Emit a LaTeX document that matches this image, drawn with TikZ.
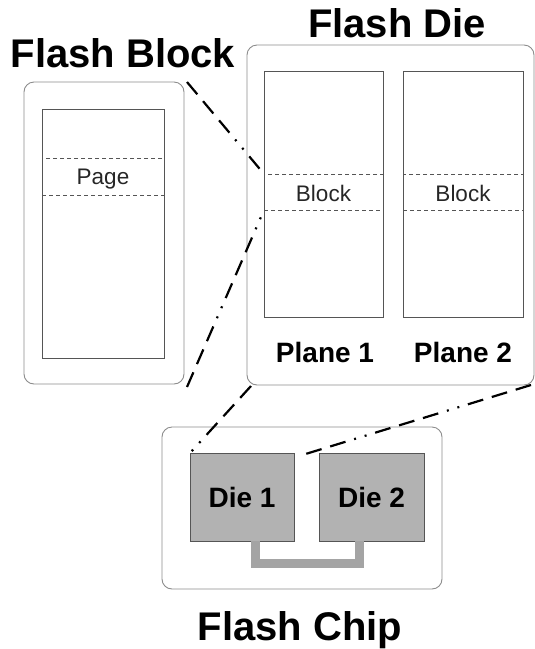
\documentclass[tikz,border=0pt]{standalone}
\usepackage{fontspec}
\setmainfont{Liberation Sans}
\usetikzlibrary{positioning}
\definecolor{frame}{HTML}{8C8C8C}
\definecolor{edge}{HTML}{555555}
\definecolor{diefill}{HTML}{B2B2B2}
\definecolor{busgray}{HTML}{A4A4A4}
\tikzset{
  outerbox/.style={draw=frame, line width=0.9pt, rounded corners=10pt, inner sep=0pt, outer sep=0pt, anchor=north west},
  innerbox/.style={draw=edge, line width=0.9pt, inner sep=0pt, outer sep=0pt, anchor=north west},
  band/.style={draw=edge, dashed, dash pattern=on 4pt off 3pt, line width=0.7pt, inner sep=0pt, outer sep=0pt, anchor=north west},
  diebox/.style={draw=edge, fill=diefill, line width=0.9pt, inner sep=0pt, outer sep=0pt, anchor=north west},
  zoomline/.style={line width=2.2pt, dash pattern=on 16pt off 9pt on 16pt off 9pt on 16pt off 9pt on 2pt off 9pt on 2pt off 9pt},
  title/.style={font=\bfseries\fontsize{40}{44}\selectfont, anchor=base},
  sublabel/.style={font=\bfseries\fontsize{28}{32}\selectfont, anchor=base},
  bandlabel/.style={font=\fontsize{22.5}{26}\selectfont, text=black!85, anchor=base},
}
\begin{document}
\begin{tikzpicture}[x=1pt, y=-1pt]
\useasboundingbox (0,0) rectangle (535,649);

% Flash block
\node[outerbox, minimum width=160pt, minimum height=302pt] (blk) at (24,82) {};
\node[innerbox, minimum width=122pt, minimum height=249pt] (blkin) at (42,109) {};
\node[band, minimum width=122pt, minimum height=37pt] (page) at (42,158) {};
\node[bandlabel] (pagelbl) at (103,184) {Page};
\node[title] (blktitle) at (123,67) {Flash Block};

% Flash die with two planes
\node[outerbox, minimum width=287pt, minimum height=340pt] (die) at (247,45) {};
\node[innerbox, minimum width=119pt, minimum height=246pt] (pl1) at (264,71) {};
\node[innerbox, minimum width=120pt, minimum height=246pt] (pl2) at (403,71) {};
\node[band, minimum width=119pt, minimum height=36pt] (b1) at (264,174) {};
\node[band, minimum width=120pt, minimum height=36pt] (b2) at (403,174) {};
\node[bandlabel] (b1lbl) at (323.5,201) {Block};
\node[bandlabel] (b2lbl) at (463,201) {Block};
\node[sublabel] (pl1lbl) at (325,362) {Plane 1};
\node[sublabel] (pl2lbl) at (463,362) {Plane 2};
\node[title] (dietitle) at (397,37) {Flash Die};

% Flash chip with two dies
\node[outerbox, minimum width=280pt, minimum height=162pt] (chip) at (162,427) {};
\node[diebox, minimum width=104pt, minimum height=88pt] (d1) at (190,453) {};
\node[diebox, minimum width=105pt, minimum height=88pt] (d2) at (319,453) {};
\node[sublabel] (d1lbl) at (242,507) {Die 1};
\node[sublabel] (d2lbl) at (371.5,507) {Die 2};
\node[title] (chiptitle) at (300,640) {Flash Chip};

% bus between the dies
\draw[busgray, line width=9pt] ([xshift=13pt]d1.south) |- (309,563) -| ([xshift=-12.5pt]d2.south);

% zoom lines
\draw[zoomline] ([xshift=3pt]blk.north east) -- (b1.north west);
\draw[zoomline] ([xshift=3pt,yshift=-3pt]blk.south east) -- (b1.south west);
\draw[zoomline] ([xshift=4pt,yshift=-1pt]die.south west) -- (d1.north west);
\draw[zoomline] ([xshift=-3pt]die.south east) -- ([xshift=5pt,yshift=-3pt]d1.north east);
\end{tikzpicture}
\end{document}
